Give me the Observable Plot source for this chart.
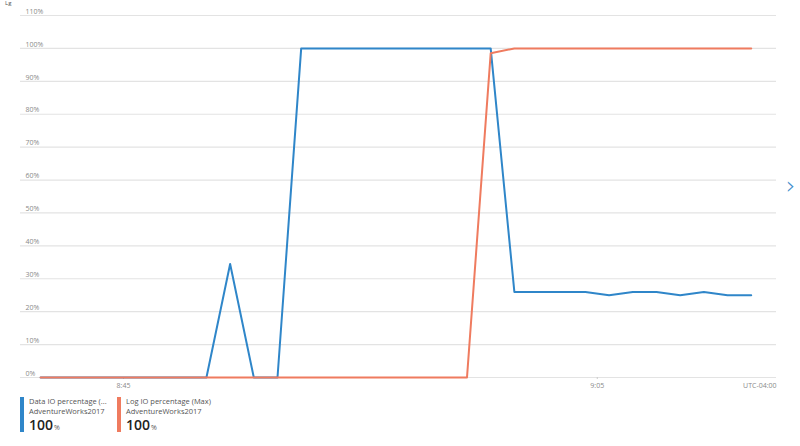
<!DOCTYPE html>
<html>
<head>
<meta charset="utf-8">
<script src="https://cdn.jsdelivr.net/npm/d3@7"></script>
<script src="https://cdn.jsdelivr.net/npm/@observablehq/plot@0.6"></script>
<style>
  html, body { margin: 0; padding: 0; background: #fff; }
  body { width: 800px; height: 446px; overflow: hidden; position: relative; font-family: "Open Sans", "Noto Sans", sans-serif; }
  #chart svg { display: block; }
  .corner { position: absolute; left: 5px; top: 0px; font-size: 6px; line-height: 6px; color: #555; }
  .chev { position: absolute; left: 786px; top: 172px; font-size: 24px; line-height: 28px; color: #3d8ccc; font-family: "DejaVu Sans", sans-serif; font-weight: 200; }
  .legend { position: absolute; left: 20px; top: 396px; display: flex; gap: 0; }
  .item { position: relative; padding-left: 9px; height: 37px; }
  .item .bar { position: absolute; left: 0; top: 1px; width: 4px; height: 35px; }
  .item .l1, .item .l2 { font-size: 7.5px; color: #555; line-height: 10px; height: 10px; white-space: nowrap; }
  .item .val { font-size: 14px; font-weight: 600; color: #222; line-height: 17px; height: 17px; white-space: nowrap; }
  .item .val span { font-size: 7px; font-weight: 400; color: #555; margin-left: 1px; }
</style>
</head>
<body>
<div class="corner">Lg</div>
<div id="chart"></div>
<div class="chev">›</div>
<div class="legend" id="legend"></div>
<script>
// Data, one point per minute
const times = [
  "08:41:30","08:42:30","08:43:30","08:44:30","08:45:30","08:46:30","08:47:30","08:48:30",
  "08:49:30","08:50:30","08:51:30","08:52:30","08:53:30","08:54:30","08:55:30","08:56:30",
  "08:57:30","08:58:30","08:59:30","09:00:30","09:01:30","09:02:30","09:03:30","09:04:30",
  "09:05:30","09:06:30","09:07:30","09:08:30","09:09:30","09:10:30","09:11:30"
];
const dataIO = [
  0,0,0,0,0,0,0,0,
  34.5,0,0,100,100,100,100,100,
  100,100,100,100,26,26,26,26,
  25,26,26,25,26,25,25
];
const logIO = [
  0,0,0,0,0,0,0,0,
  0,0,0,0,0,0,0,0,
  0,0,0,98.5,100,100,100,100,
  100,100,100,100,100,100,100
];
const seriesNames = ["Data IO percentage (...", "Log IO percentage (Max)"];
const seriesColors = ["#2f86c9", "#ef7b5f"];
const resourceName = "AdventureWorks2017";
const legendValues = ["100", "100"];
const yTicks = [0,10,20,30,40,50,60,70,80,90,100,110];
const xTickTimes = ["08:45:00", "09:05:00"];
const domainTimes = ["08:40:39", "09:12:34"];
const zoneLabel = "UTC-04:00";

const parse = s => new Date(`2023-01-01T${s}`);
const rows = [];
times.forEach((t, i) => {
  rows.push({time: parse(t), value: dataIO[i], series: seriesNames[0]});
  rows.push({time: parse(t), value: logIO[i], series: seriesNames[1]});
});

const chart = Plot.plot({
  width: 800,
  height: 395,
  marginTop: 15,
  marginBottom: 18,
  marginLeft: 20,
  marginRight: 24,
  style: {fontFamily: "'Open Sans', 'Noto Sans', sans-serif", fontSize: "7px", color: "#888", background: "#fff"},
  x: {type: "time", domain: domainTimes.map(parse), label: null},
  y: {domain: [0, 110], label: null},
  color: {domain: seriesNames, range: seriesColors},
  marks: [
    Plot.gridY(yTicks, {stroke: "#e3e3e3", strokeOpacity: 1, strokeWidth: 1.2}),
    Plot.axisY({ticks: yTicks, tickFormat: d => d + "%", tickSize: 0, tickPadding: 0, textAnchor: "start", dx: 5, dy: -4, fill: "#8a8a8a", fontSize: 7, label: null}),
    Plot.axisX({ticks: xTickTimes.map(parse), tickFormat: d3.timeFormat("%-H:%M"), tickSize: 2, tickPadding: 4, stroke: "#ccc", fill: "#8a8a8a", fontSize: 7, label: null}),
    Plot.text([zoneLabel], {frameAnchor: "bottom-right", dx: 0, dy: 10, textAnchor: "end", fill: "#8a8a8a", fontSize: 7}),
    Plot.line(rows, {x: "time", y: "value", stroke: "series", strokeWidth: 2, curve: "linear", z: "series"})
  ]
});
document.getElementById("chart").appendChild(chart);

const legend = document.getElementById("legend");
seriesNames.forEach((name, i) => {
  const item = document.createElement("div");
  item.className = "item";
  item.style.width = i === 0 ? "88px" : "120px";
  item.innerHTML = `<div class="bar" style="background:${seriesColors[i]}"></div>
    <div class="l1">${name}</div>
    <div class="l2">${resourceName}</div>
    <div class="val">${legendValues[i]}<span>%</span></div>`;
  legend.appendChild(item);
});
</script>
</body>
</html>
